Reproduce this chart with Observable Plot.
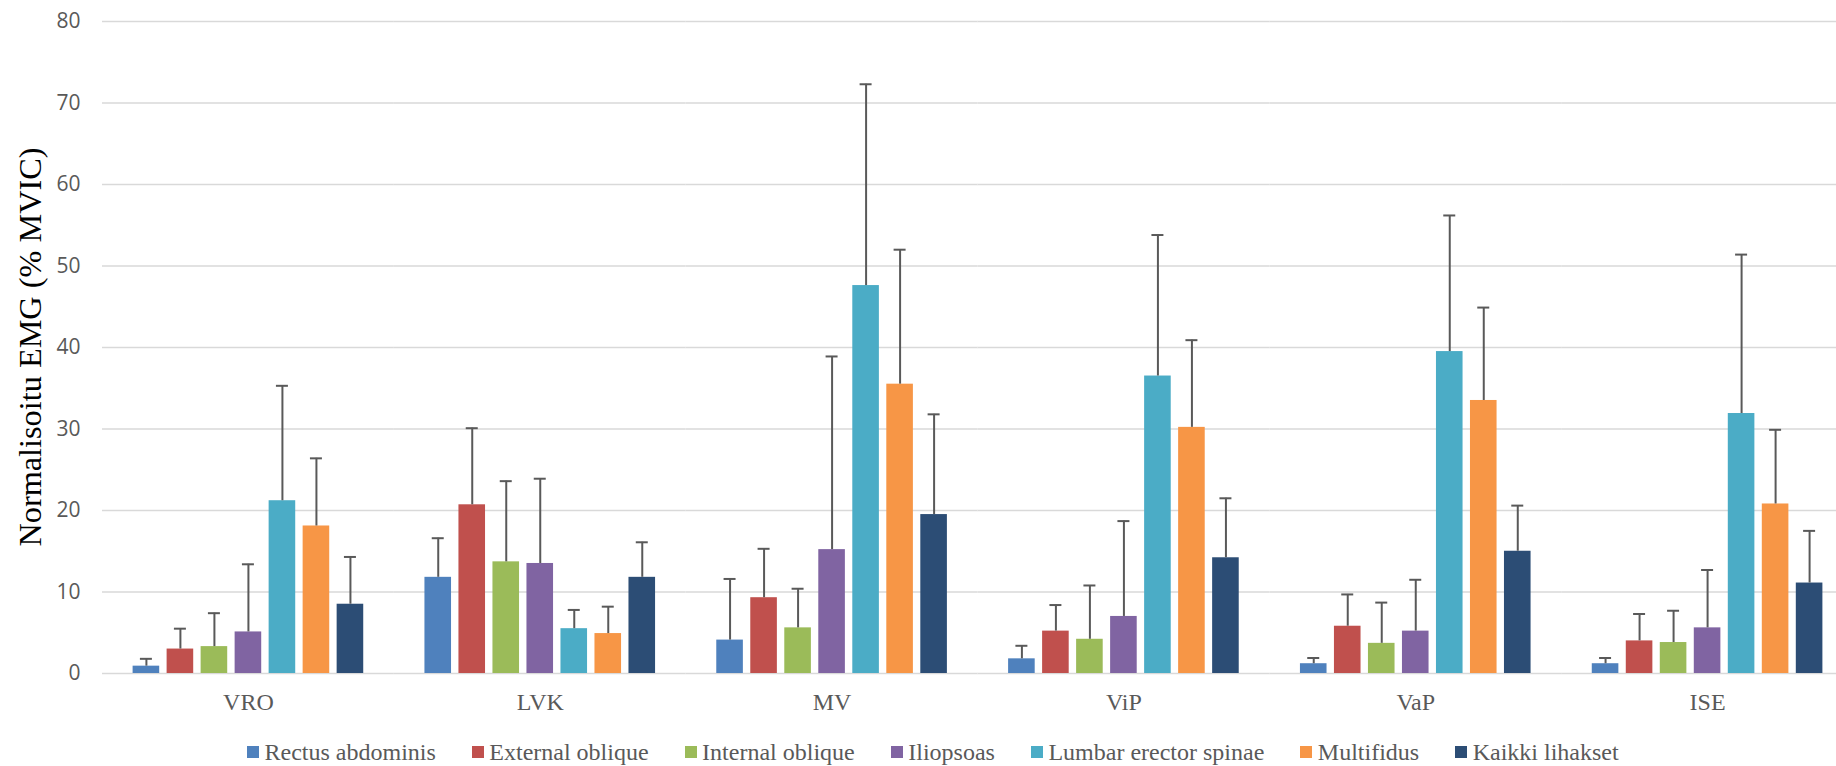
<!DOCTYPE html>
<html>
<head>
<meta charset="utf-8">
<script src="https://cdn.jsdelivr.net/npm/d3@7"></script>
<script src="https://cdn.jsdelivr.net/npm/@observablehq/plot@0.6"></script>
<style>
  html, body { margin: 0; padding: 0; background: #fff; overflow: hidden; }
  #wrap { position: relative; width: 1836px; height: 766px; overflow: hidden; }
  #chart svg { max-width: none !important; }
  #ytitle {
    position: absolute; left: 30px; top: 347px;
    transform: translate(-50%, -50%) rotate(-90deg);
    font-family: "Liberation Serif", "Times New Roman", serif;
    font-size: 32.3px; line-height: 1; color: #000; white-space: nowrap;
  }
  #legend {
    position: absolute; left: 247px; top: 740px;
    display: flex; align-items: center; gap: 36px;
    font-family: "Liberation Serif", "Times New Roman", serif;
    font-size: 24px; line-height: 1; color: #595959; white-space: nowrap;
  }
  #legend .item { display: flex; align-items: center; }
  #legend .sw { width: 12px; height: 12px; margin-right: 5.5px; }
</style>
</head>
<body>
<div id="wrap">
  <div id="chart"></div>
  <div id="ytitle">Normalisoitu EMG (% MVIC)</div>
  <div id="legend"></div>
</div>
<script>
// Exercises (groups along the x axis)
const categories = ["VRO", "LVK", "MV", "ViP", "VaP", "ISE"];

// Muscles (bars within each group)
const muscles = [
  "Rectus abdominis", "External oblique", "Internal oblique", "Iliopsoas",
  "Lumbar erector spinae", "Multifidus", "Kaikki lihakset"
];
const colors = ["#4F81BD", "#C0504D", "#9BBB59", "#8064A2", "#4BACC6", "#F79646", "#2C4D75"];

// Mean normalised EMG (% MVIC) per exercise, and the standard deviation
const rectusMean     = [0.9, 11.8, 4.1, 1.8, 1.2, 1.2];
const rectusSd       = [0.9, 4.8, 7.5, 1.6, 0.7, 0.7];
const externalMean   = [3.0, 20.7, 9.3, 5.2, 5.8, 4.0];
const externalSd     = [2.5, 9.4, 6.0, 3.2, 3.9, 3.3];
const internalMean   = [3.3, 13.7, 5.6, 4.2, 3.7, 3.8];
const internalSd     = [4.1, 9.9, 4.8, 6.6, 5.0, 3.9];
const iliopsoasMean  = [5.1, 13.5, 15.2, 7.0, 5.2, 5.6];
const iliopsoasSd    = [8.3, 10.4, 23.7, 11.7, 6.3, 7.1];
const lumbarMean     = [21.2, 5.5, 47.6, 36.5, 39.5, 31.9];
const lumbarSd       = [14.1, 2.3, 24.7, 17.3, 16.7, 19.5];
const multifidusMean = [18.1, 4.9, 35.5, 30.2, 33.5, 20.8];
const multifidusSd   = [8.3, 3.3, 16.5, 10.7, 11.4, 9.1];
const kaikkiMean     = [8.5, 11.8, 19.5, 14.2, 15.0, 11.1];
const kaikkiSd       = [5.8, 4.3, 12.3, 7.3, 5.6, 6.4];

const yTicks = [0, 10, 20, 30, 40, 50, 60, 70, 80];

const meansBySeries = [rectusMean, externalMean, internalMean, iliopsoasMean, lumbarMean, multifidusMean, kaikkiMean];
const sdsBySeries   = [rectusSd, externalSd, internalSd, iliopsoasSd, lumbarSd, multifidusSd, kaikkiSd];

const rows = [];
categories.forEach((category, ci) => {
  muscles.forEach((muscle, mi) => {
    rows.push({category, muscle, mean: meansBySeries[mi][ci], sd: sdsBySeries[mi][ci]});
  });
});

const errTop = d => d.mean + d.sd;

const chart = Plot.plot({
  width: 1870,
  height: 725,
  marginLeft: 102,
  marginRight: 17,
  marginTop: 21,
  marginBottom: 52,
  style: {background: "white", overflow: "visible"},
  fx: {domain: categories, padding: 0, round: false, label: null},
  x: {domain: muscles, paddingInner: 0.218, paddingOuter: 0.9, round: false, axis: null},
  y: {domain: [0, 80], label: null},
  color: {domain: muscles, range: colors},
  marks: [
    Plot.ruleY(yTicks, {stroke: "#d9d9d9", strokeWidth: 1.6}),
    Plot.barY(rows, {fx: "category", x: "muscle", y: "mean", fill: "muscle"}),
    Plot.ruleX(rows, {fx: "category", x: "muscle", y1: "mean", y2: errTop, stroke: "#595959", strokeWidth: 2}),
    Plot.tickY(rows, {fx: "category", x: "muscle", y: errTop, stroke: "#595959", strokeWidth: 2, insetLeft: 7.3, insetRight: 7.3}),
    Plot.axisY({ticks: yTicks, tickSize: 0, tickPadding: 22, fontSize: 21, fontFamily: "Open Sans", fill: "#595959", label: null}),
    Plot.axisFx({anchor: "bottom", tickSize: 0, tickPadding: 19, fontSize: 24, fontFamily: "Liberation Serif", fill: "#595959", label: null})
  ]
});
document.getElementById("chart").appendChild(chart);

// Legend row below the plot
const legend = document.getElementById("legend");
muscles.forEach((m, i) => {
  const item = document.createElement("div");
  item.className = "item";
  const sw = document.createElement("span");
  sw.className = "sw";
  sw.style.background = colors[i];
  const label = document.createElement("span");
  label.textContent = m;
  item.appendChild(sw);
  item.appendChild(label);
  legend.appendChild(item);
});
</script>
</body>
</html>
